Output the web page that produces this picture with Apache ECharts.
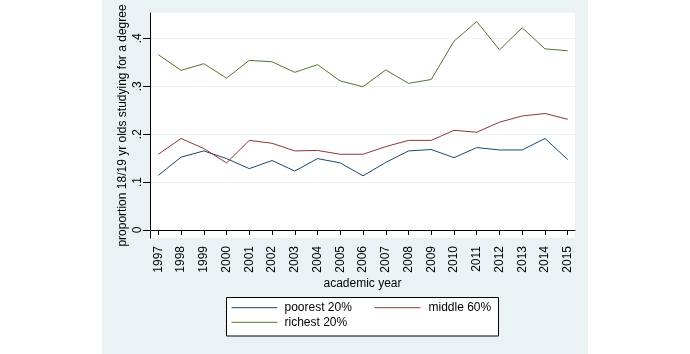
<!DOCTYPE html>
<html>
<head>
<meta charset="utf-8">
<script src="https://cdn.jsdelivr.net/npm/echarts@6/dist/echarts.min.js"></script>
<style>
  html, body { margin: 0; padding: 0; background: #fff; }
  #chart { width: 690px; height: 354px; }
</style>
</head>
<body>
<div id="chart"></div>
<script>
// 学年
const years = [1997, 1998, 1999, 2000, 2001, 2002, 2003, 2004, 2005, 2006,
  2007, 2008, 2009, 2010, 2011, 2012, 2013, 2014, 2015];
const poorest = [0.114, 0.152, 0.165, 0.149, 0.128, 0.145, 0.123, 0.149, 0.140, 0.113,
  0.141, 0.165, 0.168, 0.151, 0.172, 0.167, 0.167, 0.191, 0.147];
const middle = [0.158, 0.191, 0.170, 0.140, 0.187, 0.181, 0.165, 0.166, 0.158, 0.158,
  0.174, 0.187, 0.187, 0.208, 0.204, 0.225, 0.238, 0.243, 0.231];
const richest = [0.366, 0.333, 0.347, 0.317, 0.354, 0.351, 0.329, 0.345, 0.311, 0.299,
  0.334, 0.306, 0.314, 0.394, 0.435, 0.376, 0.422, 0.378, 0.374];
const yTicks = [0, 0.1, 0.2, 0.3, 0.4];

const font = '"Liberation Sans", Arial, sans-serif';
const pairs = (vals) => years.map((y, i) => [y, vals[i]]);

const chart = echarts.init(document.getElementById('chart'));

// 图例只画线，不画圆点
const legendBase = {
  orient: 'vertical', top: 301.7, padding: 0,
  itemWidth: 46, itemHeight: 14, itemGap: 2.6,
  itemStyle: { opacity: 0 },
  lineStyle: { width: 1 },
  z: 5
};

const option = {
  animation: false,
  backgroundColor: '#ffffff',
  textStyle: { fontFamily: font },
  graphic: [
    {
      type: 'rect', z: -10, silent: true,
      shape: { x: 102, y: 0, width: 486, height: 354 },
      style: { fill: '#eaf2f3' }
    },
    {
      type: 'rect', z: 1, silent: true,
      shape: { x: 226.5, y: 297.5, width: 272, height: 38.5 },
      style: { fill: '#ffffff', stroke: '#000000', lineWidth: 1 }
    }
  ],
  grid: {
    left: 150, right: 115, top: 13, bottom: 116,
    show: true, backgroundColor: '#ffffff', borderWidth: 0
  },
  legend: [
    Object.assign({}, legendBase, {
      data: ['poorest 20%', 'richest 20%'],
      left: 231,
      textStyle: { fontSize: 12, color: '#000', fontFamily: font, padding: [0, 0, 0, 2] }
    }),
    Object.assign({}, legendBase, {
      data: ['middle 60%'],
      left: 374,
      textStyle: { fontSize: 12, color: '#000', fontFamily: font, padding: [0, 0, 0, 3] }
    })
  ],
  xAxis: {
    type: 'value',
    min: 1996.635, max: 2015.32,
    name: 'academic year',
    nameLocation: 'middle', nameGap: 40, nameMoveOverlap: false,
    nameTextStyle: { fontSize: 12, color: '#000', fontFamily: font },
    axisLine: { show: true, lineStyle: { color: '#000', width: 1 } },
    axisTick: { show: true, length: 5, customValues: years, lineStyle: { color: '#000' } },
    axisLabel: {
      customValues: years, rotate: 90, margin: 8,
      fontSize: 12, color: '#000', fontFamily: font,
      formatter: (v) => String(Math.round(v))
    },
    splitLine: { show: false }
  },
  yAxis: {
    type: 'value',
    min: -0.0167, max: 0.4528, splitNumber: 5,
    name: 'proportion 18/19 yr olds studying for a degree',
    nameLocation: 'middle', nameGap: 21, nameMoveOverlap: false,
    nameTextStyle: { fontSize: 12, color: '#000', fontFamily: font },
    axisLine: { show: true, lineStyle: { color: '#000', width: 1 } },
    axisTick: { show: true, length: 7, customValues: yTicks, lineStyle: { color: '#000' } },
    axisLabel: {
      customValues: yTicks, rotate: 90, margin: 6,
      fontSize: 12, color: '#000', fontFamily: font,
      formatter: (v) => v === 0 ? '0' : String(Math.round(v * 10) / 10).replace(/^0/, '')
    },
    splitLine: { show: true, lineStyle: { color: '#eaf2f3', width: 1 } }
  },
  series: [
    {
      name: 'poorest 20%', type: 'line', data: pairs(poorest),
      symbol: 'none', lineStyle: { color: '#1a476f', width: 1 }, itemStyle: { color: '#1a476f' }
    },
    {
      name: 'middle 60%', type: 'line', data: pairs(middle),
      symbol: 'none', lineStyle: { color: '#90353b', width: 1 }, itemStyle: { color: '#90353b' }
    },
    {
      name: 'richest 20%', type: 'line', data: pairs(richest),
      symbol: 'none', lineStyle: { color: '#55752f', width: 1 }, itemStyle: { color: '#55752f' }
    }
  ]
};

chart.setOption(option);
</script>
</body>
</html>
